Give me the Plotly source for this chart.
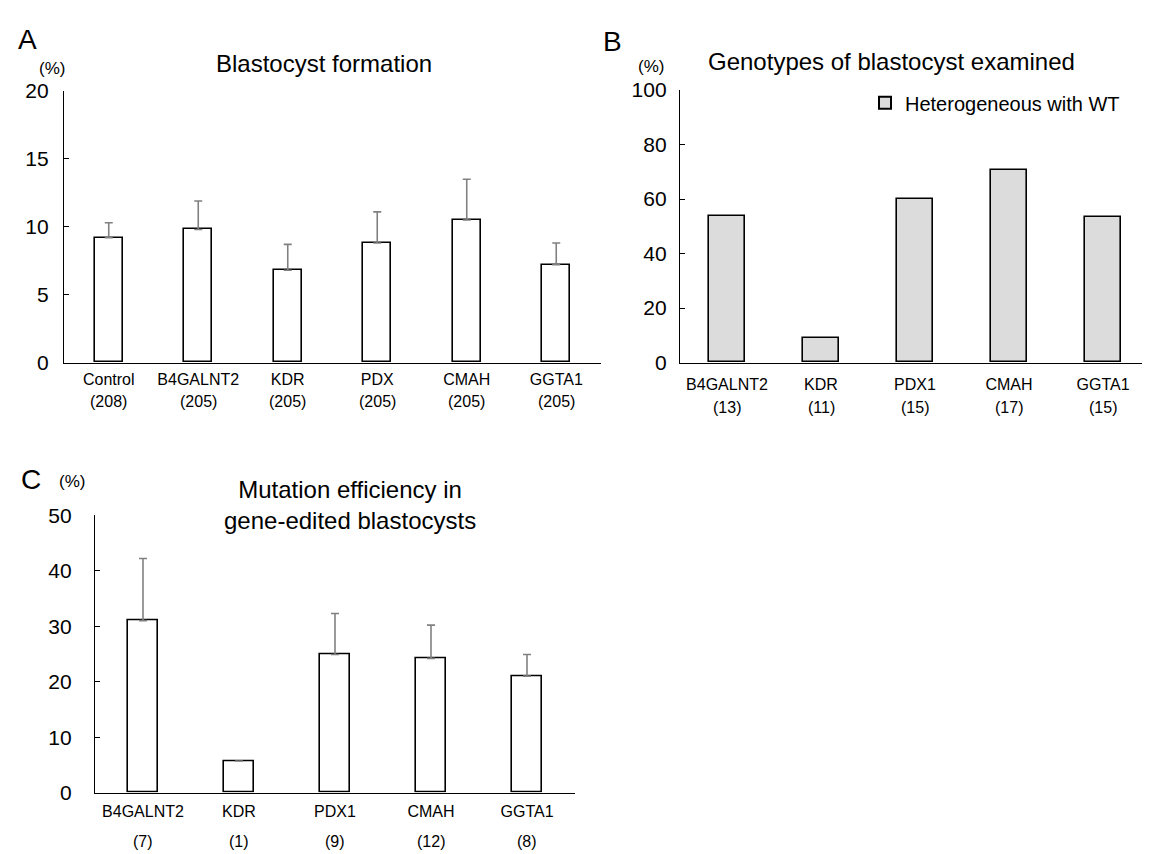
import plotly.graph_objects as go

# ---------------- data ----------------
a_categories = ["Control", "B4GALNT2", "KDR", "PDX", "CMAH", "GGTA1"]
a_counts = ["(208)", "(205)", "(205)", "(205)", "(205)", "(205)"]
a_values = [9.2, 9.8, 6.8, 8.8, 10.5, 7.2]
a_errors = [1.1, 2.1, 1.9, 2.3, 3.0, 1.6]

b_categories = ["B4GALNT2", "KDR", "PDX1", "CMAH", "GGTA1"]
b_counts = ["(13)", "(11)", "(15)", "(17)", "(15)"]
b_values = [53.8, 9.1, 60.0, 70.6, 53.3]

c_categories = ["B4GALNT2", "KDR", "PDX1", "CMAH", "GGTA1"]
c_counts = ["(7)", "(1)", "(9)", "(12)", "(8)"]
c_values = [31.0, 5.7, 24.9, 24.2, 21.0]
c_errors = [11.2, None, 7.4, 6.0, 3.9]

# ---------------- helpers ----------------
W, H = 1150, 854
FONT = "Liberation Sans, Arial, Helvetica, sans-serif"


def fx(p):
    return p / W


def fy(p):
    return 1 - p / H


err_style = dict(type="data", symmetric=False, color="#808080", thickness=1.6, width=4)

fig = go.Figure()

fig.add_trace(go.Bar(
    x=a_categories, y=a_values, width=0.31,
    marker=dict(color="white", line=dict(color="black", width=1.6)),
    error_y=dict(array=a_errors, arrayminus=[0] * len(a_errors), **err_style),
    xaxis="x", yaxis="y", showlegend=False,
))

fig.add_trace(go.Bar(
    x=b_categories, y=b_values, width=0.39, name="Heterogeneous with WT",
    marker=dict(color="#dcdcdc", line=dict(color="black", width=1.6)),
    xaxis="x2", yaxis="y2", showlegend=True,
))

fig.add_trace(go.Bar(
    x=c_categories, y=c_values, width=0.31,
    marker=dict(color="white", line=dict(color="black", width=1.6)),
    error_y=dict(array=c_errors, arrayminus=[0] * len(c_errors), **err_style),
    xaxis="x3", yaxis="y3", showlegend=False,
))

xbase = dict(showline=True, linecolor="black", linewidth=1.4, ticks="",
             showgrid=False, zeroline=False, tickfont=dict(size=16, color="black"),
             type="category")
ybase = dict(showline=True, linecolor="black", linewidth=1.4, ticks="inside",
             ticklen=5, tickwidth=1.4, tickcolor="black", showgrid=False,
             zeroline=False, tickfont=dict(size=21, color="black"))

fig.update_layout(
    width=W, height=H, autosize=False,
    margin=dict(l=0, r=0, t=0, b=0),
    paper_bgcolor="white", plot_bgcolor="white",
    font=dict(family=FONT, color="black"),
    bargap=0,
    xaxis=dict(domain=[fx(56), fx(593)], anchor="y", ticklabelstandoff=2, **xbase),
    yaxis=dict(domain=[fy(352), fy(73)], anchor="x", range=[0, 20],
               tickvals=[0, 5, 10, 15, 20], ticklabelstandoff=10, **ybase),
    xaxis2=dict(domain=[fx(672), fx(1142)], anchor="y2", ticklabelstandoff=7, **xbase),
    yaxis2=dict(domain=[fy(352), fy(72)], anchor="x2", range=[0, 100],
                tickvals=[0, 20, 40, 60, 80, 100], ticklabelstandoff=8, **ybase),
    xaxis3=dict(domain=[fx(87), fx(567)], anchor="y3", ticklabelstandoff=4, **xbase),
    yaxis3=dict(domain=[fy(794), fy(509)], anchor="x3", range=[0, 50],
                tickvals=[0, 10, 20, 30, 40, 50], ticklabelstandoff=18, **ybase),
    legend=dict(x=fx(857), y=fy(85), xanchor="left", yanchor="middle",
                font=dict(size=20, color="black"), bgcolor="rgba(0,0,0,0)",
                itemsizing="constant"),
)

annotations = []
# count labels (second line under categories)
for cats, counts, xr, yr, shift in [(a_categories, a_counts, "x", "y", -39),
                                     (b_categories, b_counts, "x2", "y2", -45),
                                     (c_categories, c_counts, "x3", "y3", -49)]:
    for c, n in zip(cats, counts):
        annotations.append(dict(x=c, y=0, xref=xr, yref=yr, text=n, showarrow=False,
                                yshift=shift, yanchor="middle",
                                font=dict(size=16, color="black")))

# titles
annotations.append(dict(x=fx(316), y=fy(45), xref="paper", yref="paper",
                        text="Blastocyst formation", showarrow=False,
                        xanchor="center", yanchor="middle", font=dict(size=24)))
annotations.append(dict(x=fx(883), y=fy(43), xref="paper", yref="paper",
                        text="Genotypes of blastocyst examined", showarrow=False,
                        xanchor="center", yanchor="middle", font=dict(size=24)))
annotations.append(dict(x=fx(342), y=fy(498), xref="paper", yref="paper",
                        text="Mutation efficiency in<br>gene-edited blastocysts",
                        showarrow=False, xanchor="center", yanchor="middle",
                        font=dict(size=24)))

# panel letters
for letter, x, y in [("A", 19, 20), ("B", 604, 22), ("C", 23, 472)]:
    annotations.append(dict(x=fx(x), y=fy(y), xref="paper", yref="paper", text=letter,
                            showarrow=False, xanchor="center", yanchor="middle",
                            font=dict(size=28)))

# (%) unit labels
for x, y in [(44, 50), (643, 48), (64, 474)]:
    annotations.append(dict(x=fx(x), y=fy(y), xref="paper", yref="paper", text="(%)",
                            showarrow=False, xanchor="center", yanchor="middle",
                            font=dict(size=17)))

fig.update_layout(annotations=annotations)

fig.write_html("out.html")
